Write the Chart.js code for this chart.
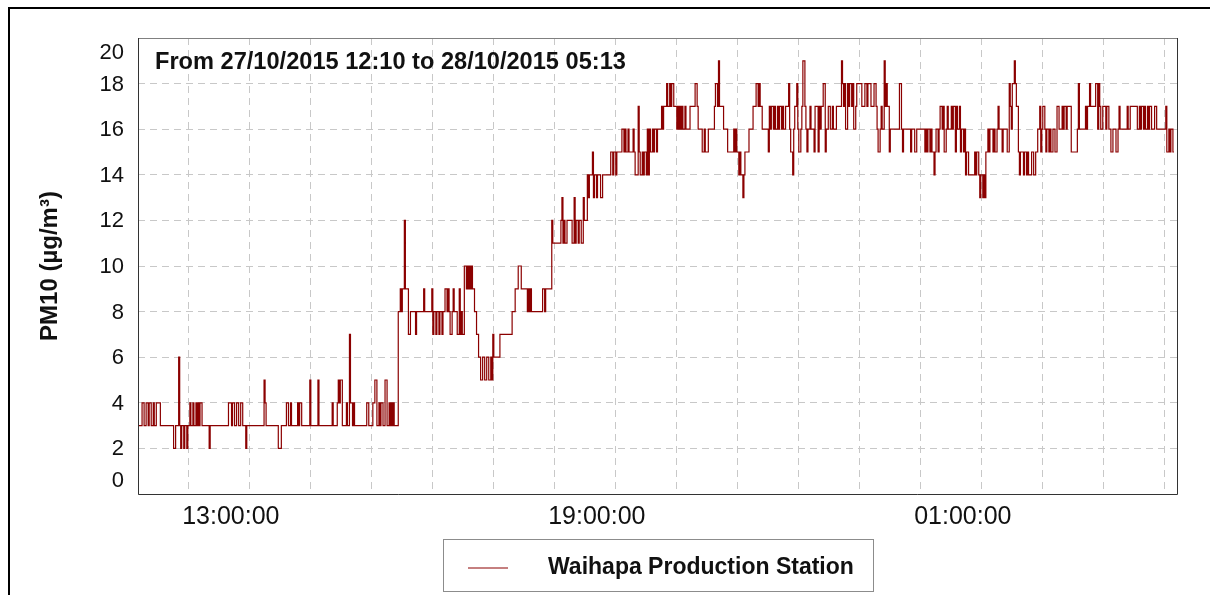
<!DOCTYPE html>
<html>
<head>
<meta charset="utf-8">
<title>PM10 - Waihapa Production Station</title>
<script src="https://cdn.jsdelivr.net/npm/chart.js@4.4.0/dist/chart.umd.min.js"></script>
<style>
  html, body { margin: 0; padding: 0; background: #fff; }
  #wrap { position: relative; width: 1210px; height: 595px; overflow: hidden; }
</style>
</head>
<body>
<div id="wrap">
  <canvas id="pmChart" width="1210" height="595"></canvas>
</div>
<script>
// Period shown on the chart
const TITLE_TEXT = 'From 27/10/2015 12:10 to 28/10/2015 05:13';
const SERIES_LABEL = 'Waihapa Production Station';
const Y_TITLE = 'PM10 (µg/m³)';
const START_MIN = 12 * 60 + 10;      // 27/10 12:10
const END_MIN = 24 * 60 + 5 * 60 + 13; // 28/10 05:13

// Y axis ticks
const yTicks = [0, 2, 4, 6, 8, 10, 12, 14, 16, 18, 20];
// X axis: gridline every hour (hours counted from 27/10 00:00), label every 6 hours
const xGridHours = [13, 14, 15, 16, 17, 18, 19, 20, 21, 22, 23, 24, 25, 26, 27, 28, 29];
const xLabelHours = [13, 19, 25];

// Readings, stored as change points: minutes after 12:10 and the PM10 value from then on
const minutesFromStart = [
  0, 4, 6, 8, 10, 11, 13, 15, 16, 18, 22, 35, 37, 40, 41, 42, 43, 45, 46, 48, 49,
  51, 52, 54, 55, 57, 58, 59, 60, 61, 63, 70, 71, 89, 92, 93, 95, 97, 99, 101, 103,
  106, 107, 124, 125, 126, 138, 141, 146, 148, 150, 151, 157, 158, 159, 161,
  169, 170, 177, 178, 191, 192, 196, 197, 198, 199, 201, 205, 206, 208, 209, 211,
  212, 213, 225, 227, 231, 233, 235, 237, 238, 239, 241, 243, 245, 247, 248, 249,
  250, 251, 252, 256, 258, 259, 260, 262, 263, 266, 268, 273, 274, 281, 282, 289,
  290, 291, 293, 294, 296, 297, 299, 300, 302, 304, 305, 306, 307, 309, 310, 311,
  314, 316, 317, 318, 319, 321, 323, 324, 325, 326, 327, 328, 329,
  331, 333, 335, 337, 339, 341, 343, 345, 347, 348, 349, 350, 356, 368, 371, 374,
  377, 383, 384, 385, 386, 387, 398, 400, 401, 407, 408, 416, 417, 418, 419, 420,
  422, 427, 429, 430, 431, 433, 434, 436, 438, 439, 442, 443, 444, 447, 448, 449,
  451, 452, 455, 457, 465, 467, 468, 470, 471, 476, 478, 479, 480, 482, 483, 487,
  488, 489, 492, 493, 494, 496, 497,
  498, 500, 501, 502, 503, 504, 506, 507, 508, 510, 511, 515, 516, 517, 520, 521,
  523, 524, 525, 527, 530, 531, 532, 533, 534, 535, 536, 538, 539, 543, 548, 550,
  551, 555, 557, 558, 561, 567, 568, 570, 571, 572, 576, 580, 586, 587, 588, 589,
  591, 592, 593, 595, 596, 597, 601, 605, 608, 610, 611, 612, 614, 620, 621, 622,
  623, 625, 626, 627, 629, 630, 631, 633, 634, 635, 637, 640, 641, 642, 644, 645,
  646, 648, 649, 650, 652, 653, 654, 656, 657, 658, 659, 661, 662, 665, 666, 667, 669,
  670, 671, 672, 674, 676, 677, 679, 681, 683, 684, 687, 692, 693, 694, 695, 696,
  698, 699, 700, 702, 703, 704, 706, 707, 712, 715, 717, 718, 721, 724, 726, 727,
  728, 730, 731, 732, 734, 735, 736, 737, 739, 740, 749, 751, 752, 753, 760, 761,
  764, 766, 774, 775, 776, 777, 779, 780, 781, 783, 784, 785, 787, 788, 789, 791,
  792, 793, 795, 796, 797, 800, 801, 802, 804, 805, 806, 808, 809, 810, 812, 813,
  814, 815, 817, 823, 824, 825, 827, 828, 829, 831, 832, 833, 834, 836, 837, 838, 840, 841,
  842, 843, 845, 846, 847, 850, 851, 855, 857, 858, 859, 860, 862, 863, 864, 866,
  867, 868, 871, 872, 874, 875, 876, 879, 881, 883, 885, 887, 888, 889, 890, 892,
  893, 894, 896, 897, 898, 900, 902, 904, 906, 909, 910, 911, 913, 914, 918, 924,
  925, 926, 932, 933, 934, 936, 937, 942, 944, 945, 946, 947, 949, 952, 953, 955,
  957, 959, 962, 964, 965, 966, 973, 974, 976, 983, 985, 986, 987, 989, 990, 991,
  993, 994, 995, 997, 1000, 1002, 1011, 1012, 1014, 1015, 1016, 1018, 1019, 1021, 1023
];
const pm10 = [
  3, 4, 3, 4, 3, 4, 3, 4, 3, 4, 3, 2, 3, 6, 3, 2, 3, 2, 3, 2, 3,
  4, 3, 4, 3, 4, 3, 4, 3, 4, 3, 2, 3, 4, 3, 4, 3, 4, 3, 4, 3,
  2, 3, 5, 4, 3, 2, 3, 4, 3, 4, 3, 4, 3, 4, 3,
  5, 3, 5, 3, 4, 3, 4, 5, 4, 5, 3, 4, 3, 7, 4, 3,
  4, 3, 4, 3, 4, 5, 3, 4, 3, 4, 3, 5, 3, 4, 3, 4,
  3, 4, 3, 8, 9, 8, 9, 12, 9, 7, 8, 7, 8, 9, 8, 9,
  7, 8, 7, 8, 7, 8, 7, 8, 9, 8, 9, 8, 7, 8, 9, 8,
  7, 9, 7, 8, 7, 10, 9, 10, 9, 10, 9, 10, 9,
  8, 7, 6, 5, 6, 5, 6, 5, 6, 5, 7, 6, 7, 8, 9, 10,
  9, 8, 9, 8, 9, 8, 9, 8, 9, 12, 11, 12, 13, 11, 12, 11,
  12, 11, 13, 11, 12, 11, 12, 11, 13, 12, 14, 13, 14, 15, 13, 14,
  13, 14, 13, 14, 15, 14, 15, 14, 15, 16, 15, 16, 15, 16, 15, 16,
  15, 14, 17, 15, 14, 15, 14,
  15, 14, 16, 14, 16, 15, 16, 15, 16, 15, 16, 17, 16, 17, 18, 17,
  18, 17, 18, 17, 16, 17, 16, 17, 16, 17, 16, 17, 16, 17, 18, 17,
  16, 15, 16, 15, 16, 17, 18, 17, 19, 17, 16, 15, 16, 15, 16, 15,
  14, 15, 14, 13, 14, 15, 16, 17, 18, 17, 18, 17, 16, 15, 17, 16,
  17, 16, 17, 16, 17, 16, 17, 16, 17, 16, 17, 18, 16, 15, 14, 16,
  17, 18, 16, 15, 16, 17, 19, 17, 16, 15, 16, 17, 16, 15, 17,
  17, 15, 17, 16, 17, 18, 15, 16, 17, 16, 17, 16, 17, 19, 18, 17,
  18, 16, 18, 17, 18, 17, 18, 16, 17, 18, 17, 18, 17, 18, 17, 18,
  17, 16, 15, 16, 17, 16, 19, 17, 18, 17, 15, 16, 18, 16, 15, 16,
  15, 16, 15, 16, 15, 16, 15, 16, 15, 16, 15, 14, 15, 16, 15, 16,
  17, 16, 17, 15, 16, 17, 16, 17, 16, 17, 15, 17, 16, 17, 15, 16,
  15, 16, 14, 15, 14, 15, 14, 15, 14, 13, 14, 13, 14, 13, 15, 16, 15, 16,
  16, 15, 16, 15, 16, 17, 16, 15, 16, 15, 18, 17, 16, 18, 19, 18,
  17, 15, 14, 15, 14, 15, 14, 15, 14, 15, 14, 15, 16, 17, 15, 16,
  17, 16, 15, 16, 15, 16, 15, 16, 15, 17, 16, 17, 16, 17, 16, 17,
  15, 16, 18, 16, 17, 16, 17, 18, 17, 18, 16, 18, 17, 16, 17, 16,
  17, 16, 15, 16, 15, 16, 17, 16, 17, 16, 17, 16, 17, 16, 17, 16,
  17, 16, 17, 16, 17, 16, 17, 16, 17, 15, 16, 15, 16, 15, 15
];

// --- Helpers ---

function pad2(n) {
  return String(n).padStart(2, '0');
}

function clockLabel(minutesSinceMidnight) {
  const h = Math.floor(minutesSinceMidnight / 60) % 24;
  const m = minutesSinceMidnight % 60;
  return pad2(h) + ':' + pad2(m) + ':00';
}

// --- Plugins ---

// outer frame, plot border, y labels kept inside the plot, title text, boxed legend
const decorPlugin = {
  id: 'decor',
  beforeDraw(chart) {
    const ctx = chart.ctx;
    ctx.save();
    ctx.fillStyle = '#fff';
    ctx.fillRect(0, 0, chart.width, chart.height);
    ctx.restore();
  },
  afterDraw(chart) {
    const ctx = chart.ctx;
    const a = chart.chartArea;
    const yScale = chart.scales.y;

    ctx.save();

    // outer frame (only top and left are visible)
    ctx.fillStyle = '#000';
    ctx.fillRect(8, 7, chart.width - 8, 2);
    ctx.fillRect(8, 7, 2, chart.height - 7);

    // plot border
    ctx.lineWidth = 1;
    ctx.strokeStyle = '#808080';
    ctx.beginPath();
    ctx.moveTo(a.left, a.top + 0.5);
    ctx.lineTo(a.right, a.top + 0.5);
    ctx.stroke();
    ctx.strokeStyle = '#333';
    ctx.beginPath();
    ctx.moveTo(a.left + 0.5, a.top);
    ctx.lineTo(a.left + 0.5, a.bottom + 0.5);
    ctx.lineTo(a.right - 0.5, a.bottom + 0.5);
    ctx.lineTo(a.right - 0.5, a.top);
    ctx.stroke();

    // y tick labels, end labels pushed inside the axis range
    ctx.fillStyle = '#111';
    ctx.font = '22px "Liberation Sans", Arial, sans-serif';
    ctx.textAlign = 'right';
    ctx.textBaseline = 'middle';
    yTicks.forEach(v => {
      let y = yScale.getPixelForValue(v);
      y = Math.min(Math.max(y, a.top + 14), a.bottom - 14);
      ctx.fillText(String(v), a.left - 14, y + 1);
    });

    // period text inside the plot
    ctx.fillStyle = '#111';
    ctx.font = 'bold 23.6px "Liberation Sans", Arial, sans-serif';
    ctx.textAlign = 'left';
    ctx.textBaseline = 'middle';
    ctx.fillText(TITLE_TEXT, a.left + 17, a.top + 24);

    // legend box
    const lx = 443, ly = 539, lw = 430, lh = 52;
    ctx.strokeStyle = '#8c8c8c';
    ctx.strokeRect(lx + 0.5, ly + 0.5, lw, lh);
    ctx.strokeStyle = chart.data.datasets[0].borderColor;
    ctx.lineWidth = 1;
    ctx.beginPath();
    ctx.moveTo(lx + 25, ly + 29);
    ctx.lineTo(lx + 65, ly + 29);
    ctx.stroke();
    ctx.fillStyle = '#111';
    ctx.font = 'bold 23px "Liberation Sans", Arial, sans-serif';
    ctx.fillText(chart.data.datasets[0].label, lx + 105, ly + 29);

    ctx.restore();
  }
};

// --- Chart ---

function initChart() {
  const points = minutesFromStart.map((m, i) => ({ x: START_MIN + m, y: pm10[i] }));
  const ctx = document.getElementById('pmChart').getContext('2d');

  new Chart(ctx, {
    type: 'line',
    data: {
      datasets: [{
        label: SERIES_LABEL,
        data: points,
        borderColor: '#8b0000',
        borderWidth: 1.2,
        pointRadius: 0,
        stepped: true,
        fill: false
      }]
    },
    options: {
      responsive: false,
      animation: false,
      devicePixelRatio: 1,
      layout: { padding: { left: 0, right: 32, top: 38, bottom: 0 } },
      plugins: {
        legend: { display: false },
        tooltip: { enabled: false },
        title: { display: false }
      },
      scales: {
        x: {
          type: 'linear',
          min: START_MIN,
          max: END_MIN,
          afterBuildTicks: scale => {
            scale.ticks = xGridHours.map(h => ({ value: h * 60 }));
          },
          afterFit: scale => { scale.height = 101; },
          ticks: {
            autoSkip: false,
            maxRotation: 0,
            minRotation: 0,
            padding: 8,
            labelOffset: 42,
            color: '#111',
            font: { family: '"Liberation Sans", Arial, sans-serif', size: 25 },
            callback: value => (xLabelHours.includes(value / 60) ? clockLabel(value) : '')
          },
          grid: { color: '#c8c8c8', lineWidth: 1, drawTicks: false },
          border: { display: false, dash: [7, 5] }
        },
        y: {
          min: 0,
          max: 20,
          afterFit: scale => { scale.width = 138; },
          ticks: { stepSize: 2, display: false },
          grid: { color: '#c8c8c8', lineWidth: 1, drawTicks: false },
          border: { display: false, dash: [7, 5] },
          title: {
            display: true,
            text: Y_TITLE,
            color: '#111',
            padding: { top: 36, bottom: 0 },
            font: { family: '"Liberation Sans", Arial, sans-serif', size: 24, weight: 'bold' }
          }
        }
      }
    },
    plugins: [decorPlugin]
  });
}

window.onload = initChart;
</script>
</body>
</html>
